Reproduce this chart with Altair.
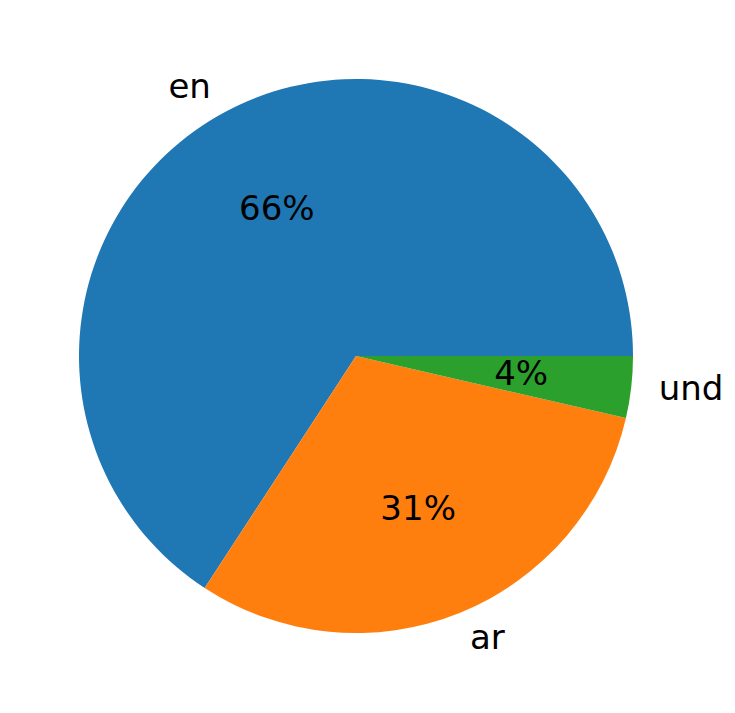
import math
import altair as alt
import pandas as pd

labels = ["en", "ar", "und"]
values = [65.8, 30.6, 3.6]
colors = ["#1f77b4", "#ff7f0e", "#2ca02c"]

total = sum(values)
df = pd.DataFrame({
    "lang": labels,
    "value": values,
    "ord": [len(labels) - 1 - i for i in range(len(labels))],
    "pct": [f"{round(v / total * 100):.0f}%" for v in values],
})

R = 277
CX, CY = 348, 348
FONT = "DejaVu Sans"
FS = 34

theta = alt.Theta("value:Q", stack=True,
                  scale=alt.Scale(range=[math.pi / 2, math.pi / 2 + 2 * math.pi]))
order = alt.Order("ord:Q", sort="ascending")

base = alt.Chart(df)

arcs = base.mark_arc(radius=R, stroke=None).encode(
    theta=theta,
    order=order,
    color=alt.Color("lang:N", scale=alt.Scale(domain=labels, range=colors), legend=None),
    x=alt.value(CX),
    y=alt.value(CY),
)

pct = base.mark_text(radius=0.6 * R, font=FONT, fontSize=FS, color="black",
                     align="center", baseline="middle").encode(
    theta=theta, order=order, text="pct:N", x=alt.value(CX), y=alt.value(CY))

lab_left = base.mark_text(radius=1.1 * R, font=FONT, fontSize=FS, color="black",
                          align="right", baseline="middle").encode(
    theta=theta, order=order, text="lab:N", x=alt.value(CX), y=alt.value(CY)
).transform_calculate(lab="datum.lang === 'en' ? datum.lang : ''")

lab_right = base.mark_text(radius=1.1 * R, font=FONT, fontSize=FS, color="black",
                           align="left", baseline="middle").encode(
    theta=theta, order=order, text="lab:N", x=alt.value(CX), y=alt.value(CY)
).transform_calculate(lab="datum.lang !== 'en' ? datum.lang : ''")

chart = alt.layer(arcs, pct, lab_left, lab_right).properties(
    width=719, height=697, padding=0,
    autosize=alt.AutoSizeParams(type="none"),
).configure_view(stroke=None)

chart.save("out.html", embed_options={"renderer": "svg", "actions": False})
